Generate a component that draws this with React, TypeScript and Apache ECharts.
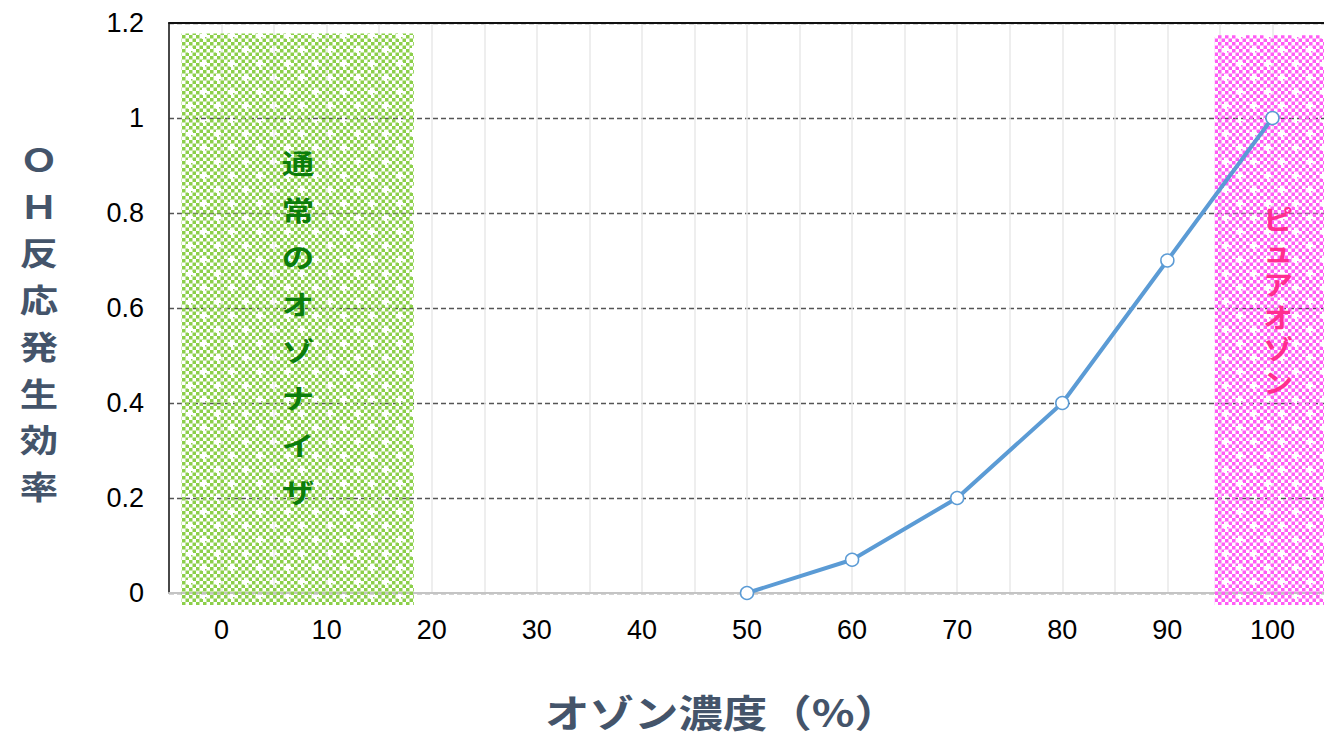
import React, { useEffect, useRef } from "react";
import * as echarts from "echarts";

const xTicks = [0, 10, 20, 30, 40, 50, 60, 70, 80, 90, 100];
const xValues = [50, 60, 70, 80, 90, 100];
const yValues = [0, 0.07, 0.2, 0.4, 0.7, 1.0];
const greenBand = [-3.8, 1.178, 18.3, -0.025];
const pinkBand = [94.5, 1.174, 106, -0.025];
const greenLabel = "通常のオゾナイザ";
const pinkLabel = "ピュアオゾン";
const yTitle = "ＯＨ反応発生効率";
const xTitle = "オゾン濃度（%）";

function makePattern(color: string) {
  const c = document.createElement("canvas");
  const s = 28;
  c.width = s;
  c.height = s;
  const ctx = c.getContext("2d")!;
  ctx.clearRect(0, 0, s, s);
  ctx.fillStyle = color;
  const cell = 3.5;
  for (let i = 0; i < s / cell; i++) {
    for (let j = 0; j < s / cell; j++) {
      if ((i + j) % 2 === 0) ctx.fillRect(i * cell, j * cell, cell, cell);
    }
  }
  const crosses = [
    [7, 7],
    [21, 21],
  ];
  for (const [cx, cy] of crosses) {
    ctx.clearRect(cx - 3.5, cy - 1.5, 7, 3);
    ctx.clearRect(cx - 1.5, cy - 3.5, 3, 7);
  }
  return { image: c, repeat: "repeat", imageWidth: s, imageHeight: s } as any;
}

export default function App() {
  const ref = useRef<HTMLDivElement>(null);
  useEffect(() => {
    if (!ref.current) return;
    const chart = echarts.init(ref.current, undefined, { renderer: "svg" });
    const greenPat = makePattern("#8ccf4a");
    const pinkPat = makePattern("#ff5cf5");
    const bands = [
      { value: greenBand, fill: greenPat },
      { value: pinkBand, fill: pinkPat },
    ];
    const axisFont = { fontFamily: "'Liberation Sans', Arial, sans-serif", fontSize: 27, color: "#000" };
    const cjk = "'Noto Sans CJK JP', sans-serif";

    const vertical = (
      text: string,
      x: number,
      y0: number,
      step: number,
      fontSize: number,
      scaleX: number,
      fill: string
    ) =>
      text.split("").map((ch, i) => ({
        type: "text",
        x,
        y: y0 + i * step,
        z: 10,
        scaleX,
        style: {
          text: ch,
          fontFamily: cjk,
          fontWeight: "bold",
          fontSize,
          fill,
          align: "center",
          verticalAlign: "middle",
        },
      }));

    chart.setOption({
      animation: false,
      grid: { left: 169, right: 0, top: 23, bottom: 145 },
      xAxis: [
        {
          type: "value",
          min: -5,
          max: 105,
          interval: 5,
          axisLine: { show: true, onZero: false, lineStyle: { color: "#c4c4c4", width: 2 } },
          axisTick: { show: false },
          axisLabel: {
            ...axisFont,
            margin: 23,
            showMinLabel: true,
            showMaxLabel: true,
            formatter: (v: number) => (xTicks.includes(v) ? String(v) : ""),
          },
          splitLine: { show: true, lineStyle: { color: "#e8e8e8", width: 1.5 } },
        },
        {
          type: "value",
          position: "top",
          min: -5,
          max: 105,
          interval: 5,
          axisLine: { show: true, onZero: false, lineStyle: { color: "#111", width: 2 } },
          axisTick: { show: false },
          axisLabel: { show: false },
          splitLine: { show: false },
        },
      ],
      yAxis: {
        type: "value",
        min: 0,
        max: 1.2,
        interval: 0.2,
        axisLine: { show: true, onZero: false, lineStyle: { color: "#111", width: 1.5 } },
        axisTick: { show: false },
        axisLabel: { ...axisFont, margin: 25 },
        splitLine: { show: true, lineStyle: { color: "#555", width: 1.3, type: [5, 3] } },
      },
      series: [
        {
          type: "custom",
          clip: false,
          z: 1,
          silent: true,
          data: bands.map((b) => b.value),
          renderItem: (params: any, api: any) => {
            const p0 = api.coord([api.value(0), api.value(1)]);
            const p1 = api.coord([api.value(2), api.value(3)]);
            return {
              type: "rect",
              shape: { x: p0[0], y: p0[1], width: p1[0] - p0[0], height: p1[1] - p0[1] },
              style: { fill: bands[params.dataIndex].fill },
            };
          },
        },
        {
          type: "line",
          z: 5,
          data: xValues.map((x, i) => [x, yValues[i]]),
          symbol: "circle",
          symbolSize: 13,
          lineStyle: { color: "#5b9bd5", width: 4 },
          itemStyle: { color: "#ffffff", borderColor: "#5b9bd5", borderWidth: 1.5 },
        },
      ],
      graphic: [
        ...vertical(greenLabel, 298, 162, 47, 27, 1.2, "#0b7d0b"),
        ...vertical(pinkLabel, 1278, 218, 32.6, 27, 1.1, "#ff2d8f"),
        ...vertical(yTitle, 39, 158, 46.7, 32, 1.2, "#44546a"),
        {
          type: "text",
          x: 722,
          y: 710,
          scaleX: 1.17,
          style: {
            text: xTitle,
            fontFamily: cjk,
            fontWeight: "bold",
            fontSize: 38,
            fill: "#44546a",
            align: "center",
            verticalAlign: "middle",
          },
        },
      ],
    });
    return () => chart.dispose();
  }, []);
  return (
    <div
      style={{
        position: "fixed",
        left: 0,
        top: 0,
        width: 1324,
        height: 738,
        overflow: "hidden",
        background: "#fff",
      }}
    >
      <div ref={ref} style={{ width: 1328, height: 738 }} />
    </div>
  );
}
